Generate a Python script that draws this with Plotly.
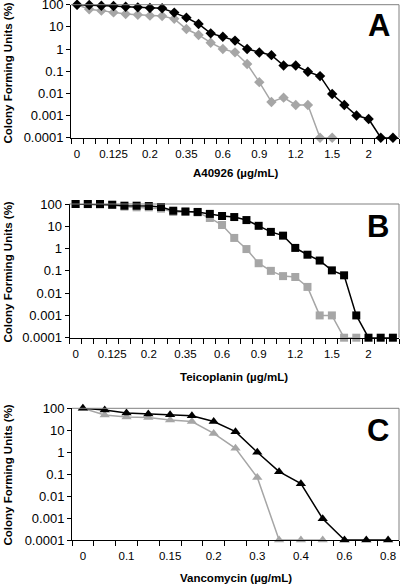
import plotly.graph_objects as go

# ---- data ----
cats_ab = ["0", "0.05", "0.1", "0.125", "0.15", "0.175", "0.2", "0.25", "0.3", "0.35",
           "0.4", "0.5", "0.6", "0.7", "0.8", "0.9", "1.0", "1.1", "1.2", "1.3",
           "1.4", "1.5", "1.6", "1.8", "2", "2.2", "2.4"]
labels_ab = ["0", "0.125", "0.2", "0.35", "0.6", "0.9", "1.2", "1.5", "2"]

cats_c = ["0", "0.05", "0.1", "0.125", "0.15", "0.175", "0.2", "0.25", "0.3", "0.35",
          "0.4", "0.5", "0.6", "0.7", "0.8"]
labels_c = ["0", "0.1", "0.15", "0.2", "0.3", "0.4", "0.6", "0.8"]

a_black = [100, 97, 90, 87, 81, 76, 71, 69, 44, 26, 13.5, 5.1, 3.6, 2.4, 1.0, 0.7, 0.53,
           0.18, 0.18, 0.095, 0.06, 0.0093, 0.003, 0.001, 0.0007, 0.0001, 0.0001]
a_grey = [100, 62, 54, 45, 38, 35, 32, 31, 23, 8.0, 4.3, 1.93, 1.0, 0.71, 0.21, 0.032,
          0.0041, 0.0064, 0.003, 0.003, 0.0001, 0.0001]

b_black = [100, 100, 100, 93, 84, 84, 81, 73, 50, 46, 44, 36, 29, 26, 19, 10.5, 5.6, 3.8,
           1.07, 0.53, 0.29, 0.105, 0.063, 0.001, 0.0001, 0.0001, 0.0001]
b_grey = [100, 98, 95, 90, 76, 71, 71, 62, 44, 45, 42, 23.6, 11.4, 3.0, 0.95, 0.22, 0.1,
          0.058, 0.053, 0.019, 0.001, 0.001, 0.0001, 0.0001]

c_black = [100, 84, 61, 55, 51, 46, 25, 8.6, 0.99, 0.13, 0.037, 0.00093, 0.0001, 0.0001, 0.0001]
c_grey = [100, 50, 40, 38, 29, 25, 7.2, 1.5, 0.071, 0.0001, 0.0001, 0.0001]

y_tickvals = [0.0001, 0.001, 0.01, 0.1, 1, 10, 100]
y_ticktext = ["0.0001", "0.001", "0.01", "0.1", "1", "10", "100"]

panel_letters = ["A", "B", "C"]
x_titles = ["A40926 (µg/mL)", "Teicoplanin (µg/mL)", "Vancomycin (µg/mL)"]
y_title = "Colony Forming Units (%)"

# ---- layout geometry (pixels) ----
W, H = 400, 585
FONT = "Liberation Sans, Arial, sans-serif"
BLACK = "#000000"
GREY = "#a6a6a6"

panels = [
    dict(cats=cats_ab, labels=labels_ab, series=[a_grey, a_black], symbol="diamond", msize=8,
         x0=71, x1=399, ytop=4.7, ybot=137.7, letter_xy=(379, 26), xt_y=173, yt_y=73),
    dict(cats=cats_ab, labels=labels_ab, series=[b_grey, b_black], symbol="square", msize=8,
         x0=69.5, x1=399, ytop=204, ybot=337.7, letter_xy=(378, 227), xt_y=377, yt_y=272),
    dict(cats=cats_c, labels=labels_c, series=[c_grey, c_black], symbol="triangle-up", msize=9,
         x0=72, x1=399, ytop=408.3, ybot=540, letter_xy=(378, 430), xt_y=578, yt_y=475),
]

fig = go.Figure()
annotations = []
shapes = []

for i, p in enumerate(panels):
    n = i + 1
    xa = "x" if n == 1 else f"x{n}"
    ya = "y" if n == 1 else f"y{n}"
    for vals, col in zip(p["series"], [GREY, BLACK]):
        fig.add_trace(go.Scatter(
            x=p["cats"][:len(vals)], y=vals, mode="lines+markers",
            line=dict(color=col, width=1.5),
            marker=dict(symbol=p["symbol"], size=p["msize"], color=col),
            xaxis=xa, yaxis=ya, cliponaxis=False, showlegend=False,
            hoverinfo="skip"))

    ticktext = [c if c in p["labels"] else "" for c in p["cats"]]
    xkey = "xaxis" if n == 1 else f"xaxis{n}"
    ykey = "yaxis" if n == 1 else f"yaxis{n}"
    fig.update_layout(**{
        xkey: dict(domain=[p["x0"] / W, p["x1"] / W], anchor=ya, type="category",
                   categoryorder="array", categoryarray=p["cats"],
                   tickmode="array", tickvals=p["cats"], ticktext=ticktext,
                   tickson="boundaries", ticks="outside", ticklen=5, tickwidth=1,
                   tickangle=0, automargin=False, ticklabelstandoff=5,
                   ticklabeloverflow="allow",
                   tickcolor=BLACK, showline=True, linecolor=BLACK, linewidth=1,
                   showgrid=False, zeroline=False, fixedrange=True,
                   tickfont=dict(family=FONT, size=11.5, color=BLACK),
                   range=[-0.5, len(p["cats"]) - 0.5]),
        ykey: dict(domain=[1 - p["ybot"] / H, 1 - p["ytop"] / H], anchor=xa, type="log",
                   range=[-4, 2], tickmode="array", tickvals=y_tickvals, ticktext=y_ticktext,
                   ticks="outside", ticklen=4, tickwidth=1, tickcolor=BLACK,
                   automargin=False, fixedrange=True, ticklabeloverflow="allow",
                   showline=True, linecolor=BLACK, linewidth=1, showgrid=False,
                   zeroline=False, tickfont=dict(family=FONT, size=13, color=BLACK)),
    })
    # grey plot-area frame (top + right)
    shapes.append(dict(type="line", xref=f"{xa} domain", yref=f"{ya} domain",
                       x0=0, x1=1, y0=1, y1=1, line=dict(color="#808080", width=1)))
    shapes.append(dict(type="line", xref=f"{xa} domain", yref=f"{ya} domain",
                       x0=1, x1=1, y0=0, y1=1, line=dict(color="#808080", width=1)))
    # panel letter
    lx, ly = p["letter_xy"]
    annotations.append(dict(text=f"<b>{panel_letters[i]}</b>", x=lx / W, y=1 - ly / H,
                            xref="paper", yref="paper", showarrow=False,
                            xanchor="center", yanchor="middle",
                            font=dict(family=FONT, size=31, color=BLACK)))
    # x title
    annotations.append(dict(text=f"<b>{x_titles[i]}</b>",
                            x=(p["x0"] + p["x1"]) / 2 / W, y=1 - p["xt_y"] / H,
                            xref="paper", yref="paper", showarrow=False,
                            xanchor="center", yanchor="middle",
                            font=dict(family=FONT, size=11.5, color=BLACK)))
    # y title
    annotations.append(dict(text=f"<b>{y_title}</b>", x=7.5 / W, y=1 - p["yt_y"] / H,
                            xref="paper", yref="paper", showarrow=False, textangle=-90,
                            xanchor="center", yanchor="middle",
                            font=dict(family=FONT, size=11.5, color=BLACK)))

fig.update_layout(width=W, height=H, margin=dict(l=0, r=0, t=0, b=0, autoexpand=False),
                  paper_bgcolor="white", plot_bgcolor="white",
                  annotations=annotations, shapes=shapes, hovermode=False,
                  font=dict(family=FONT, color=BLACK))

fig.write_html(
    "out.html",
    config={"displayModeBar": False, "staticPlot": True},
    post_script=("document.body.style.margin='0';document.body.style.padding='0';"
                 "document.documentElement.style.overflow='hidden';"),
)
